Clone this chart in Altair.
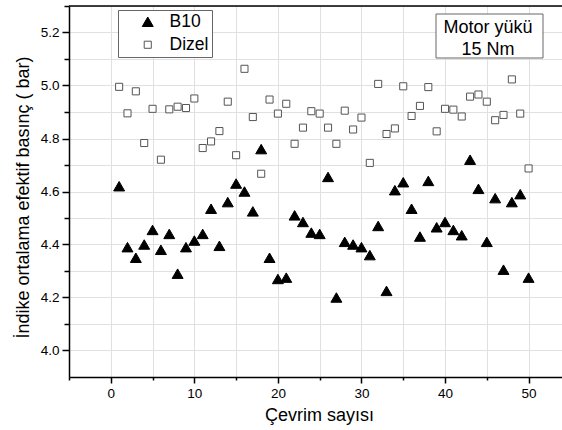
import altair as alt
import pandas as pd

cycles = list(range(1, 51))
b10 = [4.62, 4.39, 4.35, 4.40, 4.455, 4.38, 4.44, 4.29, 4.39, 4.415,
       4.44, 4.535, 4.395, 4.56, 4.63, 4.60, 4.525, 4.76, 4.35, 4.27,
       4.275, 4.51, 4.485, 4.445, 4.44, 4.655, 4.20, 4.41, 4.40, 4.39,
       4.36, 4.47, 4.225, 4.605, 4.635, 4.535, 4.43, 4.64, 4.465, 4.485,
       4.455, 4.435, 4.72, 4.61, 4.41, 4.575, 4.305, 4.56, 4.59, 4.275]
dizel = [4.995, 4.895, 4.978, 4.783, 4.912, 4.72, 4.91, 4.92, 4.915, 4.951,
         4.764, 4.789, 4.828, 4.939, 4.737, 5.063, 4.881, 4.667, 4.947, 4.894,
         4.931, 4.78, 4.841, 4.903, 4.894, 4.841, 4.78, 4.905, 4.834, 4.879,
         4.708, 5.006, 4.817, 4.838, 4.997, 4.885, 4.923, 4.994, 4.827, 4.912,
         4.909, 4.883, 4.958, 4.966, 4.939, 4.869, 4.889, 5.023, 4.894, 4.687]
series_names = ["B10", "Dizel"]
annotation_lines = ["Motor yükü", "15 Nm"]
x_ticks = [-5, 0, 5, 10, 15, 20, 25, 30, 35, 40, 45, 50]
y_ticks = [round(4.0 + 0.1 * k, 1) for k in range(14)]

df = pd.DataFrame({
    "cycle": cycles * 2,
    "value": b10 + dizel,
    "series": [series_names[0]] * len(b10) + [series_names[1]] * len(dizel),
})

FONT = "Liberation Sans"
W, H = 493, 371

legend = alt.Legend(
    orient="none", legendX=49, legendY=4, title=None,
    strokeColor="#666666", fillColor="white", padding=3,
    symbolOffset=18, labelOffset=13, labelFontSize=17.5, labelFont=FONT,
    labelColor="black", rowPadding=4, symbolStrokeWidth=1,
)

points = alt.Chart(df).mark_point(strokeWidth=1, opacity=1).encode(
    x=alt.X("cycle:Q", scale=alt.Scale(domain=[-5, 54], nice=False, zero=False),
            axis=alt.Axis(
                values=x_ticks, title="Çevrim sayısı",
                labelExpr="datum.value >= 0 && datum.value % 10 == 0 ? datum.label : ''",
                tickSize={"condition": {"test": "datum.value >= 0 && datum.value % 10 == 0", "value": 6}, "value": 3},
                titleX=250, titleY=43, titleBaseline="alphabetic", titleAnchor=None,
                labelPadding=3,
            )),
    y=alt.Y("value:Q", scale=alt.Scale(domain=[3.9, 5.3], nice=False, zero=False),
            axis=alt.Axis(
                values=y_ticks, title="İndike ortalama efektif basınç ( bar)",
                labelExpr="round(datum.value * 10) % 2 == 0 ? format(datum.value, '.1f') : ''",
                tickSize={"condition": {"test": "round(datum.value * 10) % 2 == 0", "value": 7}, "value": 5},
                titleX=-41, titleY=191, titleBaseline="alphabetic", titleAngle=-90,
                labelPadding=3,
            )),
    shape=alt.Shape("series:N", scale=alt.Scale(domain=series_names, range=["triangle-up", "square"]), legend=legend),
    fill=alt.Fill("series:N", scale=alt.Scale(domain=series_names, range=["black", "white"]), legend=legend),
    stroke=alt.Stroke("series:N", scale=alt.Scale(domain=series_names, range=["black", "#555555"]), legend=legend),
    size=alt.Size("series:N", scale=alt.Scale(domain=series_names, range=[120, 50]), legend=legend),
)

one = pd.DataFrame({"k": [0]})
top_border = alt.Chart(one).mark_rule(color="black", strokeWidth=1.5).encode(
    x=alt.value(0), x2=alt.value(W), y=alt.value(0)
)
ann_box = alt.Chart(one).mark_rect(fill="white", stroke="#666666", strokeWidth=1).encode(
    x=alt.value(367), x2=alt.value(474), y=alt.value(8), y2=alt.value(52)
)
ann_text = alt.Chart(one).mark_text(
    text=annotation_lines, font=FONT, fontSize=18, color="black",
    align="center", baseline="alphabetic", lineHeight=22,
).encode(x=alt.value(419), y=alt.value(27))

chart = alt.layer(points, top_border, ann_box, ann_text).properties(
    width=W, height=H,
    autosize=alt.AutoSizeParams(type="none"),
    padding={"left": 69, "top": 6, "right": 0, "bottom": 53},
).configure_view(stroke=None).configure_axis(
    labelFont=FONT, labelFontSize=13.5, labelColor="black",
    titleFont=FONT, titleFontSize=18, titleColor="black", titleFontWeight="normal",
    domainColor="black", domainWidth=1.5, tickColor="black", tickWidth=1.5,
    gridColor="#e0e0e0", gridWidth=1,
)

chart.save("out.html", embed_options={"renderer": "svg", "actions": False})
